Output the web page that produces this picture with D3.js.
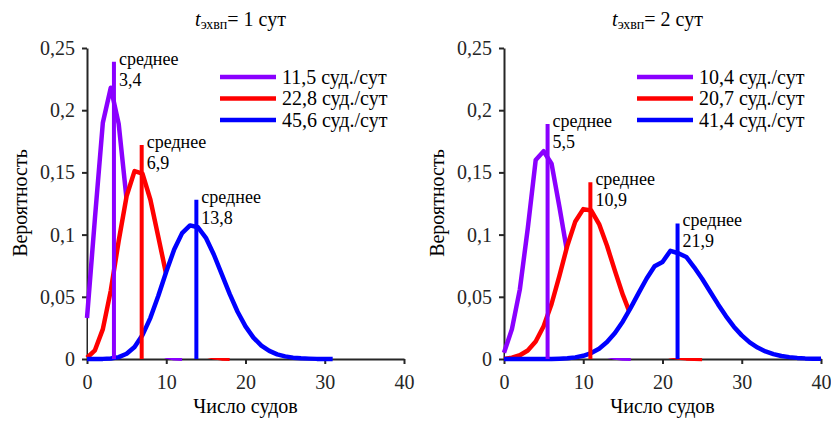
<!DOCTYPE html>
<html>
<head>
<meta charset="UTF-8">
<script src="https://d3js.org/d3.v7.min.js"></script>
<style>
  @font-face { font-family: "ChartSerif"; src: local("Liberation Serif"), local("LiberationSerif"), local("Times New Roman"); font-style: normal; }
  @font-face { font-family: "ChartSerif"; src: local("Liberation Serif Italic"), local("LiberationSerif-Italic"); font-style: italic; }
</style>
</head>
<body style="margin:0">
<svg id="chart" width="831" height="421"></svg>
<script>
// ----- data -----
var xTicks = [0, 10, 20, 30, 40];
var yTicks = [0, 0.05, 0.1, 0.15, 0.2, 0.25];
var yTickLabels = ["0", "0,05", "0,1", "0,15", "0,2", "0,25"];
var colors = ["#8a00ff", "#ff0000", "#0000ff"];
var FONT = "'Liberation Serif', ChartSerif, 'Nimbus Roman', Tinos, serif";

// left panel: t = 1 сут
var leftTitle = "1 сут";
var leftLegend = ["11,5 суд./сут", "22,8 суд./сут", "45,6 суд./сут"];
var leftMeans = [3.4, 6.9, 13.8];
var leftMeanTops = [0.239, 0.172, 0.128];
var leftPurple = [0.033, 0.113, 0.190, 0.218, 0.189, 0.128, 0.072, 0.035, 0.015, 0.0056, 0.0019, 0.0006, 0.0002];
var leftRed = [0.001, 0.007, 0.024, 0.055, 0.095, 0.131, 0.151, 0.149, 0.128, 0.098, 0.068, 0.043,
  0.0245, 0.013, 0.0064, 0.0029, 0.0013, 0.0005, 0.0002];
var leftBlue = [0, 0, 0.0001, 0.0004, 0.0015, 0.0042, 0.0097, 0.0192, 0.0331, 0.0508, 0.0701, 0.088,
  0.1012, 0.1074, 0.1059, 0.0974, 0.084, 0.0682, 0.0523, 0.038, 0.0262, 0.0172, 0.0108, 0.0065,
  0.0037, 0.0021, 0.0011, 0.0006, 0.0003, 0.0001, 0.0001, 0];

// right panel: t = 2 сут
var rightTitle = "2 сут";
var rightLegend = ["10,4 суд./сут", "20,7 суд./сут", "41,4 суд./сут"];
var rightMeans = [5.5, 10.9, 21.9];
var rightMeanTops = [0.189, 0.142, 0.109];
var rightPurple = [0.005, 0.024, 0.056, 0.105, 0.160, 0.167, 0.157, 0.122, 0.085, 0.052, 0.028, 0.014,
  0.0066, 0.0028, 0.0011, 0.0004, 0.0001];
var rightRed = [0, 0.0011, 0.003, 0.0068, 0.0141, 0.0263, 0.0442, 0.067, 0.0913, 0.1106, 0.1205, 0.1194,
  0.1085, 0.091, 0.0708, 0.0515, 0.0351, 0.0225, 0.0136, 0.0078, 0.0043, 0.0022, 0.0011, 0.0005, 0.0002, 0.0001];
var rightBlue = [0, 0, 0, 0, 0, 0, 0.0001, 0.0003, 0.0006, 0.0013, 0.0026, 0.0048, 0.0083, 0.0136, 0.0209,
  0.0302, 0.0413, 0.0532, 0.0647, 0.0746, 0.078, 0.087, 0.085, 0.082, 0.0737, 0.0645, 0.0543, 0.0441,
  0.0345, 0.026, 0.019, 0.0134, 0.0092, 0.0061, 0.0039, 0.0024, 0.0015, 0.0009, 0.0005, 0.0003, 0.0002];

var svg = d3.select("#chart");

function fontStyle(size) {
  return "font-family: " + FONT + "; font-size: " + size + "px;";
}

function addText(size) {
  return svg.append("text")
    .attr("style", fontStyle(size))
    .attr("fill", "#000");
}

function drawPanel(id, left, title, legend, means, meanTops, series) {
  var width = 317, top = 48, bottom = 359;

  var x = d3.scaleLinear().domain([0, 40]).range([left, left + width]);
  var y = d3.scaleLinear().domain([0, 0.25]).range([bottom, top]);

  // axes
  var xAxis = svg.append("g")
    .attr("transform", "translate(0," + bottom + ")")
    .call(d3.axisBottom(x).tickValues(xTicks).tickSize(5).tickSizeOuter(0).tickPadding(6));
  var yAxis = svg.append("g")
    .attr("transform", "translate(" + left + ",0)")
    .call(d3.axisLeft(y).tickValues(yTicks).tickSize(5).tickSizeOuter(0).tickPadding(7)
      .tickFormat(function(d, i) { return yTickLabels[i]; }));
  [xAxis, yAxis].forEach(function(a) {
    a.attr("font-family", null).attr("font-size", null);
    a.selectAll("path, line").attr("stroke", "#262626").attr("stroke-width", 2);
    a.selectAll("text").attr("fill", "#262626").attr("style", fontStyle(20));
  });
  xAxis.selectAll("text").attr("dy", "0.95em");

  // white fill under each curve hides the one drawn before it
  svg.append("clipPath").attr("id", "clip" + id)
    .append("rect").attr("x", left + 1).attr("y", 0).attr("width", width + 10).attr("height", bottom - 1);

  var area = d3.area()
    .x(function(d, i) { return x(i); })
    .y0(y(0))
    .y1(function(d) { return y(d); });
  var line = d3.line()
    .x(function(d, i) { return x(i); })
    .y(function(d) { return y(d); });

  series.forEach(function(s, k) {
    svg.append("path").datum(s)
      .attr("d", area)
      .attr("fill", "#fff")
      .attr("clip-path", "url(#clip" + id + ")");
    svg.append("path").datum(s)
      .attr("d", line)
      .attr("fill", "none")
      .attr("stroke", colors[k])
      .attr("stroke-width", 4.5)
      .attr("stroke-linejoin", "round");
  });

  // mean markers
  means.forEach(function(m, k) {
    svg.append("line")
      .attr("x1", x(m)).attr("x2", x(m))
      .attr("y1", y(0)).attr("y2", y(meanTops[k]))
      .attr("stroke", colors[k])
      .attr("stroke-width", 4);
    var t = addText(18)
      .attr("x", x(m) + 5)
      .attr("y", y(meanTops[k]) + 3);
    t.append("tspan").text("среднее");
    t.append("tspan").attr("x", x(m) + 5).attr("dy", 21).text(String(m).replace(".", ","));
  });

  // legend
  legend.forEach(function(name, k) {
    var ly = 77 + k * 21.5;
    svg.append("line")
      .attr("x1", left + 133).attr("x2", left + 189)
      .attr("y1", ly).attr("y2", ly)
      .attr("stroke", colors[k])
      .attr("stroke-width", 4.7);
    addText(20)
      .attr("x", left + 195).attr("y", ly + 6.5)
      .text(name);
  });

  // title
  var tt = addText(20)
    .attr("x", left + width / 2 - 5).attr("y", 26)
    .attr("text-anchor", "middle");
  tt.append("tspan").attr("style", "font-style: italic;").text("t");
  tt.append("tspan").attr("dy", 3).attr("style", "font-size: 14px;").text("эхвп");
  tt.append("tspan").attr("dy", -3).text("= " + title);

  // axis labels
  addText(20)
    .attr("x", left + width / 2).attr("y", 413)
    .attr("text-anchor", "middle")
    .text("Число судов");
  addText(20)
    .attr("transform", "translate(" + (left - 60) + ",203) rotate(-90)")
    .attr("text-anchor", "middle")
    .text("Вероятность");
}

drawPanel("L", 87, leftTitle, leftLegend, leftMeans, leftMeanTops, [leftPurple, leftRed, leftBlue]);
drawPanel("R", 504, rightTitle, rightLegend, rightMeans, rightMeanTops, [rightPurple, rightRed, rightBlue]);
</script>
</body>
</html>
